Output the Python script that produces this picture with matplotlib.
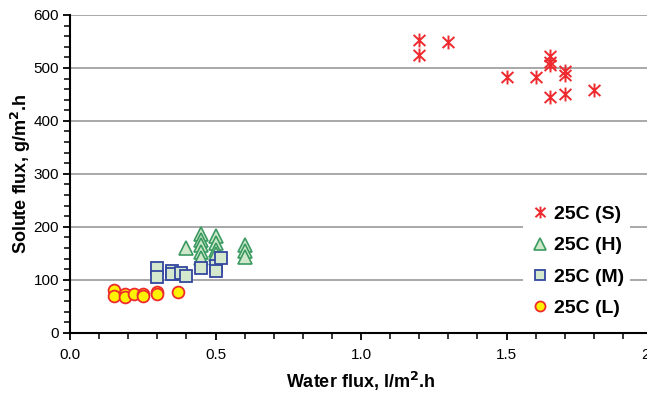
import matplotlib
matplotlib.use("Agg")
import matplotlib.pyplot as plt
from matplotlib.ticker import MultipleLocator, FormatStrFormatter
from matplotlib.path import Path

plt.rcParams['font.family'] = ['Liberation Sans', 'DejaVu Sans']

# Data
s_x = [1.20, 1.20, 1.30, 1.50, 1.60, 1.65, 1.65, 1.65, 1.65, 1.70, 1.70, 1.70, 1.80]
s_y = [552, 525, 549, 483, 483, 522, 512, 505, 446, 494, 486, 451, 459]

h_x = [0.40, 0.45, 0.45, 0.45, 0.45, 0.45, 0.50, 0.50, 0.50, 0.50, 0.60, 0.60, 0.60]
h_y = [160, 187, 175, 165, 153, 142, 183, 170, 157, 148, 166, 155, 143]

m_x = [0.30, 0.30, 0.35, 0.35, 0.38, 0.40, 0.45, 0.50, 0.50, 0.52]
m_y = [122, 105, 116, 110, 113, 108, 122, 126, 116, 141]

l_x = [0.15, 0.15, 0.19, 0.19, 0.22, 0.25, 0.25, 0.30, 0.30, 0.37]
l_y = [81, 70, 73, 67, 74, 73, 70, 77, 73, 76]

labels = ['25C (S)', '25C (H)', '25C (M)', '25C (L)']

# asterisk marker: X plus vertical bar
star = Path([(-0.85, -0.8), (0.85, 0.8), (-0.85, 0.8), (0.85, -0.8), (0, -1), (0, 1)],
            [Path.MOVETO, Path.LINETO, Path.MOVETO, Path.LINETO, Path.MOVETO, Path.LINETO])

fig = plt.figure(figsize=(6.47, 3.97), dpi=100)
ax = fig.add_axes([70/647, 1-332.7/397, 582/647, (332.7-15)/397])

ax.set_xlim(0, 2)
ax.set_ylim(0, 600)
ax.yaxis.grid(True, which='major', color='#9a9a9a', linewidth=1.2)
ax.set_axisbelow(True)

red = '#ee2a2f'
ax.plot(s_x, s_y, linestyle='none', marker=star, markersize=10, markeredgewidth=1.4,
        color=red, label=labels[0], clip_on=False)
ax.plot(h_x, h_y, linestyle='none', marker='^', markersize=10, markeredgewidth=1.2,
        markerfacecolor='#cfe8c9', markeredgecolor='#3a9a62', label=labels[1])
ax.plot(m_x, m_y, linestyle='none', marker='s', markersize=8.5, markeredgewidth=1.3,
        markerfacecolor='#d4e8cd', markeredgecolor='#3447a0', label=labels[2])
ax.plot(l_x, l_y, linestyle='none', marker='o', markersize=8.5, markeredgewidth=1.3,
        markerfacecolor='#fff200', markeredgecolor=red, label=labels[3])

for sp in ['top', 'right']:
    ax.spines[sp].set_visible(False)
for sp in ['left', 'bottom']:
    ax.spines[sp].set_linewidth(1.5)

ax.xaxis.set_major_locator(MultipleLocator(0.5))
ax.xaxis.set_minor_locator(MultipleLocator(0.1))
ax.yaxis.set_major_locator(MultipleLocator(100))
ax.yaxis.set_minor_locator(MultipleLocator(20))
ax.xaxis.set_major_formatter(FormatStrFormatter('%.1f'))
ax.tick_params(axis='both', which='major', direction='out', length=5, width=1.3,
               labelsize=11, pad=6)
ax.tick_params(axis='both', which='minor', direction='out', length=4, width=1.1)
ax.tick_params(axis='y', which='major', pad=3)

ax.set_xlabel('Water flux, l/m$\\mathbf{^2}$.h', fontsize=13, fontweight='bold', labelpad=6)
ax.set_ylabel('Solute flux, g/m$\\mathbf{^2}$.h', fontsize=13, fontweight='bold', labelpad=0)

leg = fig.legend(loc='upper left', bbox_to_anchor=(513/647, 1-190/397),
                 frameon=True, fancybox=False, edgecolor='none', facecolor='white',
                 framealpha=1, prop={'weight': 'bold', 'size': 14},
                 handletextpad=0.1, labelspacing=0.7, borderpad=0.3,
                 handlelength=1.2, markerscale=0.85)

fig.savefig('out.png', dpi=100)
